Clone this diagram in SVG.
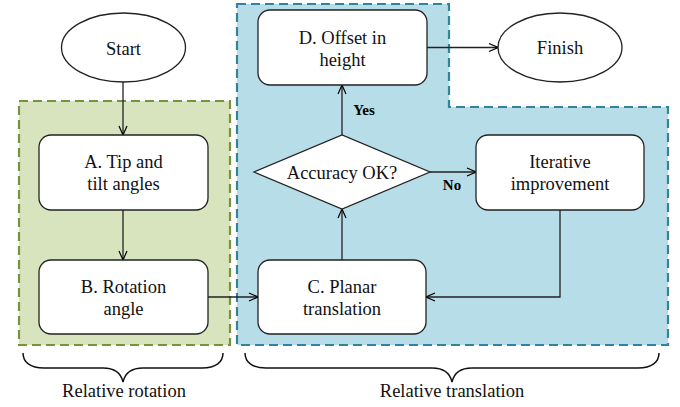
<svg xmlns="http://www.w3.org/2000/svg" width="680" height="407" viewBox="0 0 680 407" font-family="Liberation Serif, Times New Roman, serif">
<defs>
<marker id="arr" viewBox="0 0 10 10" refX="10" refY="5" markerWidth="10" markerHeight="10" markerUnits="userSpaceOnUse" orient="auto">
<path d="M1,1 L10,5 L1,9" fill="none" stroke="#000" stroke-width="1.2"/>
</marker>
<style>
.t{font-family:"Liberation Serif",serif;font-size:18.5px;fill:#111;text-anchor:middle}
.b{font-family:"Liberation Serif",serif;font-size:15px;font-weight:bold;fill:#000;text-anchor:middle}
.n{fill:#fff;stroke:#222;stroke-width:1.3}
.c{fill:none;stroke:#222;stroke-width:1.3;marker-end:url(#arr)}
.br{fill:none;stroke:#111;stroke-width:1.5}
</style>
</defs>
<g id="groups">
<rect id="rotation-group" x="19" y="101" width="211" height="244" fill="#d7e4bd" stroke="#77933c" stroke-width="2.2" stroke-dasharray="9,5"/>
<path id="translation-group" d="M237,4 L449,4 L449,107 L668,107 L668,345 L237,345 Z" fill="#b7dde8" stroke="#31849b" stroke-width="2.2" stroke-dasharray="9,5"/>
</g>
<g id="connectors">
<line class="c" x1="123" y1="82" x2="123" y2="135"/>
<line class="c" x1="123" y1="210" x2="123" y2="260"/>
<line class="c" x1="208" y1="297" x2="258" y2="297"/>
<line class="c" x1="342" y1="260" x2="342" y2="209"/>
<line class="c" x1="342" y1="135" x2="342" y2="85"/>
<line class="c" x1="427" y1="47.5" x2="498" y2="47.5"/>
<line class="c" x1="430" y1="172" x2="476" y2="172"/>
<polyline class="c" points="560,210 560,297 426,297"/>
<text class="b" x="364" y="115">Yes</text>
<text class="b" x="452" y="190">No</text>
</g>
<g id="start">
<ellipse class="n" cx="123.5" cy="47.5" rx="62" ry="34.5"/>
<text class="t" x="123.5" y="55">Start</text>
</g>
<g id="nodeA">
<rect class="n" x="39" y="135" width="169" height="75" rx="12"/>
<text class="t" x="123.5" y="168">A. Tip and</text>
<text class="t" x="123.5" y="190">tilt angles</text>
</g>
<g id="nodeB">
<rect class="n" x="39" y="260" width="169" height="74" rx="12"/>
<text class="t" x="123.5" y="293">B. Rotation</text>
<text class="t" x="123.5" y="315">angle</text>
</g>
<g id="nodeC">
<rect class="n" x="258" y="260" width="168" height="74" rx="12"/>
<text class="t" x="342" y="293">C. Planar</text>
<text class="t" x="342" y="315">translation</text>
</g>
<g id="decision">
<polygon class="n" points="254,172 342,135 430,172 342,209"/>
<text class="t" x="342" y="179">Accuracy OK?</text>
</g>
<g id="nodeD">
<rect class="n" x="258" y="10" width="169" height="75" rx="12"/>
<text class="t" x="342.5" y="44">D. Offset in</text>
<text class="t" x="342.5" y="66">height</text>
</g>
<g id="iterative">
<rect class="n" x="476" y="135" width="168" height="75" rx="12"/>
<text class="t" x="560" y="168">Iterative</text>
<text class="t" x="560" y="190">improvement</text>
</g>
<g id="finish">
<ellipse class="n" cx="560" cy="47.5" rx="62" ry="34.5"/>
<text class="t" x="560" y="54">Finish</text>
</g>
<g id="braces">
<path class="br" d="M23,353 C23,362 30,368 44,368 L103,368 C115,368 121,373 123,382 C125,373 131,368 143,368 L202,368 C216,368 223,362 223,353"/>
<path class="br" d="M245,353 C245,362 252,368 266,368 L432,368 C444,368 450,373 452,382 C454,373 460,368 472,368 L638,368 C652,368 659,362 659,353"/>
<text class="t" x="124" y="397">Relative rotation</text>
<text class="t" x="452" y="397">Relative translation</text>
</g>
</svg>
